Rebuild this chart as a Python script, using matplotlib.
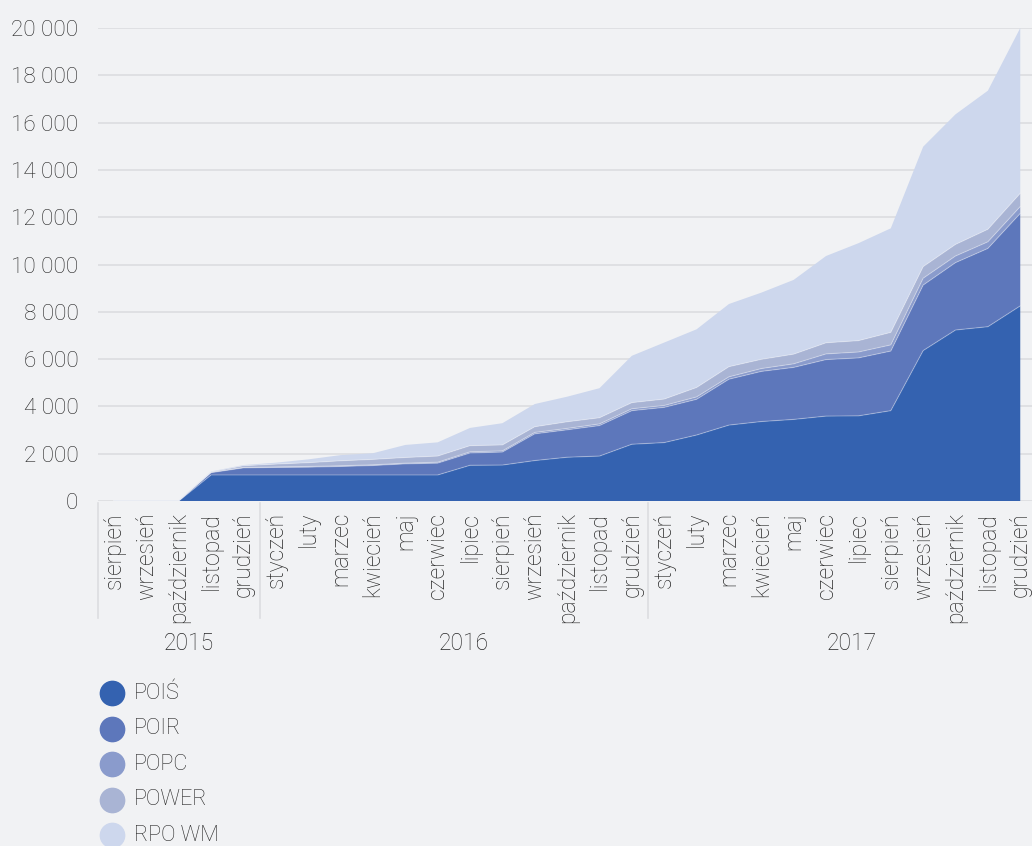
import numpy as np
import matplotlib.pyplot as plt
from matplotlib.lines import Line2D
from matplotlib.ticker import FuncFormatter

plt.rcParams['font.family'] = ['Roboto', 'DejaVu Sans']
plt.rcParams['font.weight'] = 'light'

# months Aug 2015 - Dec 2017
months = ['sierpień', 'wrzesień', 'październik', 'listopad', 'grudzień',
          'styczeń', 'luty', 'marzec', 'kwiecień', 'maj', 'czerwiec', 'lipiec',
          'sierpień', 'wrzesień', 'październik', 'listopad', 'grudzień',
          'styczeń', 'luty', 'marzec', 'kwiecień', 'maj', 'czerwiec', 'lipiec',
          'sierpień', 'wrzesień', 'październik', 'listopad', 'grudzień']
years = ['2015', '2016', '2017']
year_start = [0, 5, 17]
year_end = [4, 16, 28]

# values (per series)
pois = [0, 0, 0, 1100, 1100, 1100, 1100, 1100, 1100, 1100, 1100, 1510, 1520,
        1710, 1850, 1900, 2400, 2470, 2790, 3210, 3360, 3450, 3590, 3600,
        3820, 6360, 7230, 7370, 8250]
poir = [10, 10, 10, 100, 300, 320, 330, 360, 400, 470, 500, 520, 550,
        1130, 1160, 1290, 1420, 1490, 1510, 1940, 2120, 2200, 2390, 2450,
        2520, 2770, 2850, 3310, 3910]
popc = [0, 0, 0, 10, 20, 20, 30, 30, 30, 30, 40, 50, 50,
        60, 60, 70, 80, 80, 100, 100, 120, 150, 240, 250,
        260, 290, 280, 280, 290]
power = [15, 15, 15, 20, 70, 120, 160, 210, 230, 240, 260, 260, 250,
         240, 280, 260, 260, 270, 400, 430, 390, 410, 470, 480,
         530, 490, 490, 530, 560]
rpo_wm = [15, 15, 15, 20, 30, 60, 140, 240, 260, 530, 580, 750, 920,
          960, 1060, 1250, 1980, 2390, 2460, 2650, 2820, 3140, 3670, 4120,
          4400, 5070, 5500, 5860, 6990]

labels = ['POIŚ', 'POIR', 'POPC', 'POWER', 'RPO WM']
colors = ['#3462b0', '#5d77bb', '#8a9bcc', '#a9b4d4', '#cdd7ed']
bg = '#f1f2f4'
txt = '#262626'

x = np.arange(len(months))
series = [pois, poir, popc, power, rpo_wm]

fig = plt.figure(figsize=(10.32, 8.46), dpi=100, facecolor=bg)
ax = fig.add_axes([0.0948, 0.4078, 0.9095, 0.5591], facecolor=bg)

ax.stackplot(x, *series, colors=colors, linewidth=0)
tops = np.cumsum(np.array(series), axis=0)
for t in tops[:-1]:
    ax.plot(x, t, color='white', alpha=0.3, lw=0.8)

ax.set_xlim(-0.5, 28.5)
ax.set_ylim(0, 20000)
ax.set_yticks(np.arange(0, 20001, 2000))
ax.yaxis.set_major_formatter(FuncFormatter(lambda v, p: f'{int(v):,}'.replace(',', ' ')))
ax.grid(axis='y', color='#dcdde0', lw=1.2)
ax.set_axisbelow(True)
for s in ax.spines.values():
    s.set_visible(False)
ax.tick_params(axis='y', length=0, pad=14, labelsize=16.2, labelcolor=txt)
ax.set_xticks(x)
ax.set_xticklabels(months, rotation=90, fontsize=16.5, color=txt, va='top')
ax.tick_params(axis='x', length=0, pad=8)

# year separators and labels
xt = ax.get_xaxis_transform()
for s in year_start:
    ax.plot([s - 0.5, s - 0.5], [-0.005, -0.248], color='#dcdde0', lw=1.2,
            transform=xt, clip_on=False)
for yl, a, b in zip(years, year_start, year_end):
    ax.text((a + b) / 2 + 0.3, -0.302, yl, transform=xt, ha='center', va='center',
            fontsize=16.5, color=txt)

# legend
for i, (lab, c) in enumerate(zip(labels, colors)):
    yy = 1 - (693 + i * 35.6) / 846
    fig.add_artist(Line2D([112 / 1032], [yy], marker='o', markersize=17.5,
                          color=c, transform=fig.transFigure, lw=0))
    fig.text(134 / 1032, yy, lab, fontsize=15.6, color=txt, va='center', ha='left')

fig.savefig('out.png', dpi=100, facecolor=bg)
